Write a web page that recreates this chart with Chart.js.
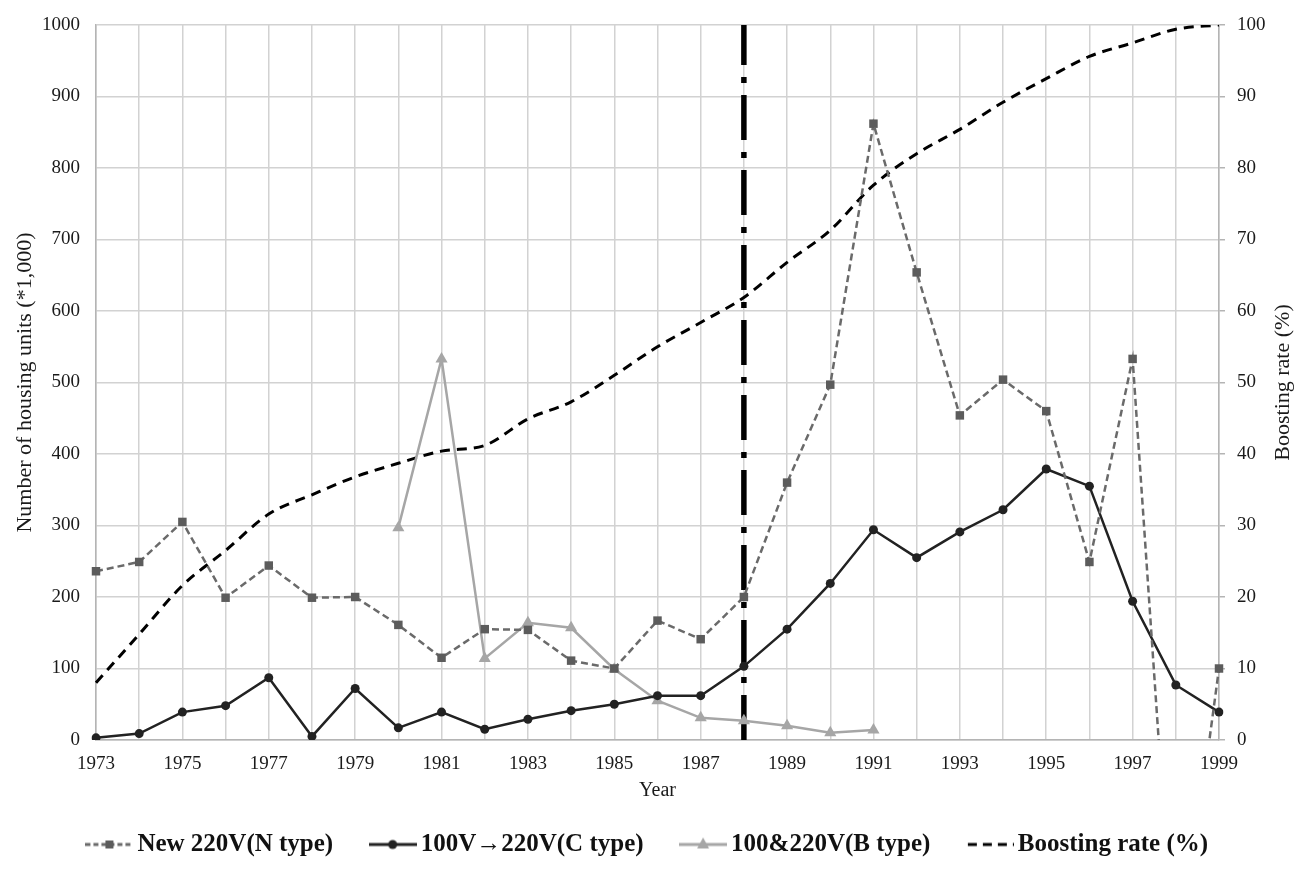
<!DOCTYPE html>
<html>
<head>
<meta charset="utf-8">
<script src="https://cdn.jsdelivr.net/npm/chart.js@4.4.1/dist/chart.umd.min.js"></script>
<style>
html, body { margin: 0; padding: 0; background: #fff; }
#wrap { width: 1302px; height: 871px; }
</style>
</head>
<body>
<div id="wrap"><canvas id="myChart"></canvas></div>
<script>
// years on the x axis
var years = ['1973', '1974', '1975', '1976', '1977', '1978', '1979', '1980', '1981',
    '1982', '1983', '1984', '1985', '1986', '1987', '1988', '1989', '1990', '1991',
    '1992', '1993', '1994', '1995', '1996', '1997', '1998', '1999'];

// housing units (*1,000)
var newN = [236, 249, 305, 199, 244, 199, 200, 161, 115, 155, 154, 111, 100, 167, 141,
    200, 360, 497, 862, 654, 454, 504, 460, 249, 533, -350, 100];
var convC = [3, 9, 39, 48, 87, 5, 72, 17, 39, 15, 29, 41, 50, 62, 62,
    103, 155, 219, 294, 255, 291, 322, 379, 355, 194, 77, 39];
var bothB = [null, null, null, null, null, null, null, 297, 533, 114, 164, 157, 99, 55, 31,
    27, 20, 10, 14, null, null, null, null, null, null, null, null];

// boosting rate (%)
var boostRate = [8.0, 14.8, 21.6, 26.5, 31.6, 34.3, 36.8, 38.7, 40.4, 41.2, 44.9, 47.3, 51.0,
    55.0, 58.4, 61.9, 66.8, 71.3, 77.6, 82.0, 85.4, 89.2, 92.5, 95.6, 97.5, 99.4, 100];

var markYear = '1988';

var serif = '"Liberation Serif", "Times New Roman", serif';
Chart.defaults.font.family = serif;
Chart.defaults.color = '#1a1a1a';

// little line+marker pictures for the legend
function sample(kind) {
    var c = document.createElement('canvas');
    c.width = 48; c.height = 20;
    var g = c.getContext('2d');
    g.lineWidth = 3;
    if (kind === 'N') {
        g.strokeStyle = '#6a6a6a'; g.setLineDash([5, 3]);
        g.beginPath(); g.moveTo(0, 10); g.lineTo(48, 10); g.stroke();
        g.fillStyle = '#5c5c5c'; g.fillRect(20, 6, 8, 8);
    } else if (kind === 'C') {
        g.strokeStyle = '#222'; g.beginPath(); g.moveTo(0, 10); g.lineTo(48, 10); g.stroke();
        g.fillStyle = '#222'; g.beginPath(); g.arc(24, 10, 4.5, 0, Math.PI * 2); g.fill();
    } else if (kind === 'B') {
        g.strokeStyle = '#a6a6a6'; g.beginPath(); g.moveTo(0, 10); g.lineTo(48, 10); g.stroke();
        g.fillStyle = '#a6a6a6'; g.beginPath(); g.moveTo(24, 3); g.lineTo(30, 14); g.lineTo(18, 14); g.closePath(); g.fill();
    } else {
        g.strokeStyle = '#000'; g.setLineDash([9, 6]);
        g.beginPath(); g.moveTo(2, 10); g.lineTo(48, 10); g.stroke();
    }
    return c;
}
var samples = [sample('N'), sample('C'), sample('B'), sample('R')];

// right title reads bottom-to-top like the left one
var rightTitle = {
    id: 'rightTitle',
    afterDraw: function (chart) {
        var ctx = chart.ctx, a = chart.chartArea;
        ctx.save();
        ctx.translate(1283, (a.top + a.bottom) / 2);
        ctx.rotate(-Math.PI / 2);
        ctx.font = '22px ' + serif;
        ctx.fillStyle = '#1a1a1a';
        ctx.textAlign = 'center';
        ctx.textBaseline = 'middle';
        ctx.fillText('Boosting rate (%)', 0, 0);
        ctx.restore();
    }
};

function fitSide(w) {
    return function (s) { s.width = w; s.paddingTop = 0; s.paddingBottom = 0; };
}

new Chart('myChart', {
    type: 'line',
    data: {
        labels: years,
        datasets: [{
            label: 'New 220V(N type)',
            data: newN,
            yAxisID: 'y',
            borderColor: '#6a6a6a',
            borderWidth: 2.5,
            borderDash: [7, 4],
            pointStyle: 'rect',
            pointRadius: 6,
            pointBackgroundColor: '#5c5c5c',
            pointBorderWidth: 0,
            tension: 0
        }, {
            label: '100V\u2192220V(C type)',
            data: convC,
            yAxisID: 'y',
            borderColor: '#222',
            borderWidth: 2.5,
            pointStyle: 'circle',
            pointRadius: 4.5,
            pointBackgroundColor: '#222',
            pointBorderWidth: 0,
            tension: 0
        }, {
            label: '100&220V(B type)',
            data: bothB,
            yAxisID: 'y',
            borderColor: '#a6a6a6',
            borderWidth: 2.5,
            pointStyle: 'triangle',
            pointRadius: 7,
            pointBackgroundColor: '#a6a6a6',
            pointBorderWidth: 0,
            tension: 0
        }, {
            label: 'Boosting rate (%)',
            data: boostRate,
            yAxisID: 'y1',
            borderColor: '#000',
            borderWidth: 3,
            borderDash: [10, 7],
            pointRadius: 0,
            cubicInterpolationMode: 'monotone'
        }, {
            label: 'marker',
            data: [{ x: markYear, y: 0 }, { x: markYear, y: 1000 }],
            yAxisID: 'y',
            borderColor: '#000',
            borderWidth: 5.5,
            borderDash: [45, 12, 6, 12],
            pointRadius: 0
        }]
    },
    options: {
        responsive: true,
        maintainAspectRatio: false,
        animation: false,
        layout: { padding: { top: 25, left: 0, right: 0, bottom: 4 } },
        plugins: {
            tooltip: { enabled: false },
            legend: {
                position: 'bottom',
                labels: {
                    usePointStyle: true,
                    pointStyleWidth: 31,
                    padding: 44,
                    color: '#111',
                    font: { size: 25, weight: 'bold' },
                    generateLabels: function (chart) {
                        return chart.data.datasets.slice(0, 4).map(function (ds, i) {
                            return {
                                text: ds.label, pointStyle: samples[i], datasetIndex: i,
                                hidden: false, lineWidth: 0, fillStyle: 'transparent',
                                strokeStyle: 'transparent', fontColor: '#111'
                            };
                        });
                    }
                }
            }
        },
        scales: {
            x: {
                grid: { color: '#d2d2d2', lineWidth: 1.5, drawTicks: false },
                border: { color: '#b4b4b4', width: 1.5 },
                ticks: {
                    autoSkip: false, maxRotation: 0, padding: 13, font: { size: 19 },
                    callback: function (v, i) { return i % 2 === 0 ? this.getLabelForValue(v) : ''; }
                },
                title: { display: true, text: 'Year', font: { size: 20 }, padding: { top: 0, bottom: -15 } },
                afterFit: function (s) { s.height = 48; }
            },
            y: {
                position: 'left',
                min: 0, max: 1000,
                ticks: { stepSize: 100, padding: 16, font: { size: 19 }, callback: function (v) { return String(v); } },
                grid: { color: '#d2d2d2', lineWidth: 1.5, drawTicks: false },
                border: { color: '#b4b4b4', width: 1.5 },
                title: { display: true, text: 'Number of housing units (*1,000)', font: { size: 22 }, padding: { top: 12, bottom: 0 } },
                afterFit: fitSide(96)
            },
            y1: {
                position: 'right',
                min: 0, max: 100,
                ticks: { stepSize: 10, padding: 12, font: { size: 19 } },
                grid: { drawOnChartArea: false, color: '#b4b4b4', lineWidth: 1.5, tickLength: 6 },
                border: { color: '#b4b4b4', width: 1.5 },
                afterFit: fitSide(83)
            }
        }
    },
    plugins: [rightTitle]
});
</script>
</body>
</html>
